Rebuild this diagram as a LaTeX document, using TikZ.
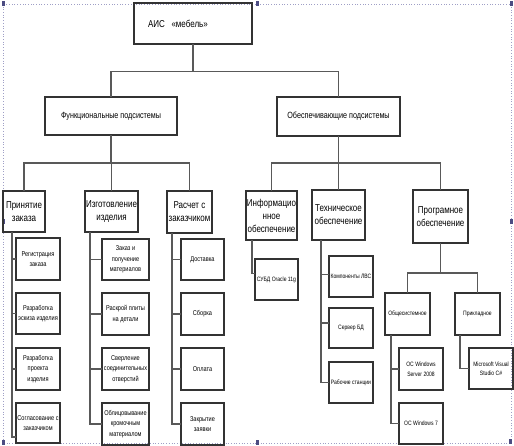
\documentclass[tikz,border=0pt]{standalone}
\usepackage{fontspec}
\setmainfont{Liberation Sans}[FakeStretch=0.8]
\begin{document}
\begin{tikzpicture}[x=1pt,y=-1pt]
\tikzset{
  bx/.style={draw=black!80, line width=1.2pt, inner sep=1pt, outer sep=0pt, align=center, text=black},
  big/.style={bx, font=\fontsize{10}{13}\selectfont},
  mid/.style={bx, font=\fontsize{9}{11}\selectfont},
  leaf/.style={bx, font=\fontsize{7}{10.5}\selectfont},
  tiny/.style={bx, font=\fontsize{6.3}{9.5}\selectfont},
  con/.style={draw=black!65, line width=1.1pt},
  frame/.style={draw=blue!25!gray!60, dotted, line width=0.7pt},
  handle/.style={fill=blue!30!black!70, draw=none}
}
\newcommand\boxat[7]{%
  \node[#6, minimum width={(#4-#2)*1pt}, minimum height={(#5-#3)*1pt}] (#1) at ({(#2+#4)/2},{(#3+#5)/2}) {#7};}
\useasboundingbox (0,0) rectangle (514,446);
% canvas frame
\draw[frame] (3,4) rectangle (511,443);
\foreach \hx/\hy in {3/4,257/4,511/4,3/222,511/222,3/442,257/442,510/441}
  \fill[handle] (\hx-1.5,\hy-2.5) rectangle (\hx+1.5,\hy+2.5);
% top
\node[big, minimum width=118pt, minimum height=41pt, text width=90pt, align=left, inner xsep=14pt] (ais) at (193,23.5) {АИС \ «мебель»};
\boxat{func}{45}{97}{177}{135}{mid}{Функциональные подсистемы}
\boxat{obesp}{277}{97}{400}{136}{mid}{Обеспечивающие подсистемы}
% level 3
\boxat{prin}{3}{191}{45}{232}{big}{Принятие\\заказа}
\boxat{izg}{85}{191}{138}{232}{big}{Изготовление\\изделия}
\boxat{rasch}{167}{191}{212}{233}{big}{Расчет с\\заказчиком}
\boxat{info}{246}{191}{297}{240}{big}{Информацио\\нное\\обеспечение}
\boxat{tech}{312}{190}{365}{240}{big}{Техническое\\обеспечение}
\boxat{prog}{413}{190}{468}{243}{big}{Програмное\\обеспечение}
% leaves: Принятие
\boxat{p1}{16}{238}{60}{280}{leaf}{Регистрация\\заказа}
\boxat{p2}{16}{293}{60}{334}{leaf}{Разработка\\эскиза изделия}
\boxat{p3}{16}{348}{60}{390}{leaf}{Разработка\\проекта\\изделия}
\boxat{p4}{16}{403}{60}{443}{leaf}{Согласование с\\заказчиком}
% Изготовление
\boxat{i1}{102}{239}{149}{280}{leaf}{Заказ и\\получение\\материалов}
\boxat{i2}{102}{293}{149}{335}{leaf}{Раскрой плиты\\на детали}
\boxat{i3}{102}{348}{149}{390}{leaf}{Сверление\\соединительных\\отверстий}
\boxat{i4}{102}{403}{149}{445}{leaf}{Облицовывание\\кромочным\\материалом}
% Расчет
\boxat{r1}{181}{239}{224}{280}{leaf}{Доставка}
\boxat{r2}{181}{293}{224}{335}{leaf}{Сборка}
\boxat{r3}{181}{348}{224}{390}{leaf}{Оплата}
\boxat{r4}{181}{403}{224}{445}{leaf}{Закрытие\\заявки}
% Информационное
\boxat{n1}{255}{259}{298}{300}{tiny}{СУБД Oracle 11g}
% Техническое
\boxat{t1}{329}{256}{373}{297}{tiny}{Компоненты ЛВС}
\boxat{t2}{329}{308}{373}{348}{tiny}{Сервер БД}
\boxat{t3}{329}{362}{373}{403}{tiny}{Рабочие станции}
% Програмное
\boxat{obs}{385}{293}{430}{335}{tiny}{Общесистемное}
\boxat{prik}{455}{293}{500}{335}{tiny}{Прикладное}
\boxat{g1}{399}{348}{443}{390}{tiny}{ОС Windows\\Server 2008}
\boxat{g2}{399}{403}{443}{444}{tiny}{ОС Windows 7}
\boxat{g3}{469}{348}{513}{389}{tiny}{Microsoft Visual\\Studio C\#}
% connectors: tree
\draw[con] (ais.south) -- ++(0,27.5) -| (func.north);
\draw[con] (ais.south) ++(0,27.5) -| (obesp.north);
\draw[con] (func.south) -- ++(0,28) -| (prin.north);
\draw[con] (func.south) ++(0,28) -| (izg.north);
\draw[con] (func.south) ++(0,28) -| (rasch.north);
\draw[con] (obesp.south) -- ++(0,27) -| (info.north);
\draw[con] (obesp.south) ++(0,27) -| (tech.north);
\draw[con] (obesp.south) ++(0,27) -| (prog.north);
\draw[con] (prog.south) -- ++(0,30) -| (obs.north);
\draw[con] (prog.south) ++(0,30) -| (prik.north);
% spines
\draw[con] ([xshift=-12pt]prin.south) |- ([yshift=-14pt]p4.west);
\foreach \l in {p1,p2,p3} \draw[con] ([xshift=-12pt]prin.south) |- (\l.west);
\draw[con] ([xshift=-21.5pt]izg.south) |- (i4.west);
\foreach \l in {i1,i2,i3} \draw[con] ([xshift=-21.5pt]izg.south) |- (\l.west);
\draw[con] ([xshift=-17.5pt]rasch.south) |- (r4.west);
\foreach \l in {r1,r2,r3} \draw[con] ([xshift=-17.5pt]rasch.south) |- (\l.west);
\draw[con] ([xshift=-19.5pt]info.south) |- ([yshift=6pt]n1.west);
\draw[con] ([xshift=-17.5pt]tech.south) |- (t3.west);
\draw[con] ([xshift=-17.5pt]tech.south) |- ([yshift=2pt]t1.west);
\draw[con] ([xshift=-17.5pt]tech.south) |- ([yshift=5pt]t2.west);
\draw[con] ([xshift=-16.5pt]obs.south) |- (g2.west);
\draw[con] ([xshift=-16.5pt]obs.south) |- (g1.west);
\draw[con] ([xshift=-17.5pt]prik.south) |- (g3.west);
\end{tikzpicture}
\end{document}
